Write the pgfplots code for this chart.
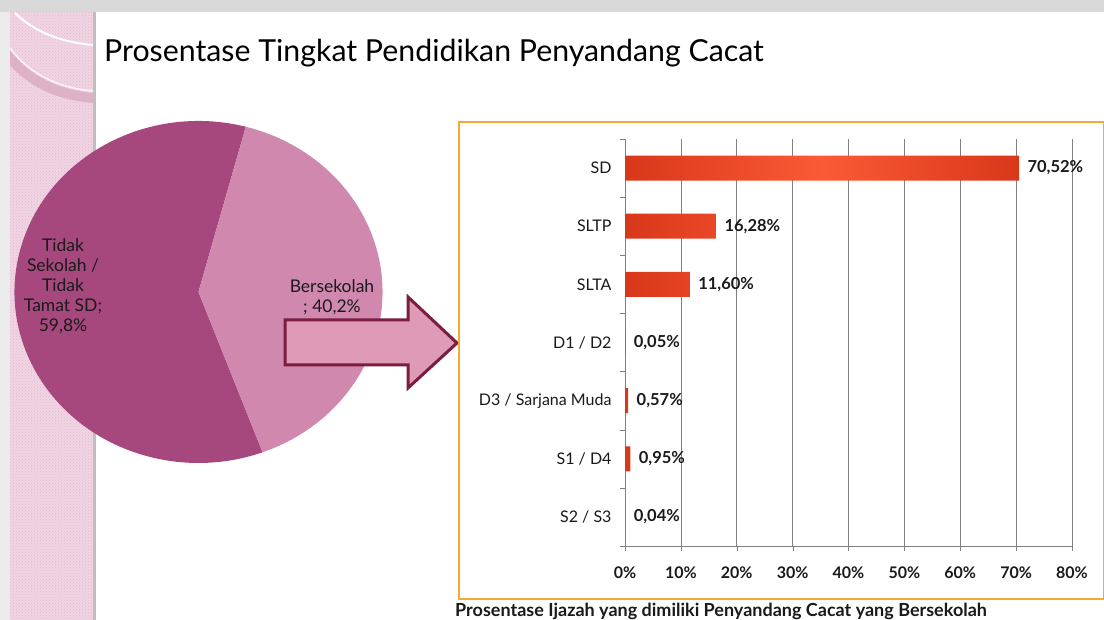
\documentclass[border=0pt]{standalone}
\usepackage{fontspec}
\setmainfont{Lato}
\usepackage{pgfplots}
\pgfplotsset{compat=1.18}
\usetikzlibrary{patterns}
\definecolor{pieDark}{HTML}{A6487D}
\definecolor{pieLight}{HTML}{D088AE}
\definecolor{arrowFill}{HTML}{DE9AB6}
\definecolor{arrowLine}{HTML}{7B1D3F}
\definecolor{stripPink}{HTML}{F1D5E4}
\definecolor{stripDots}{HTML}{E3B9CF}
\definecolor{stripBand}{HTML}{DDB2C7}
\definecolor{frameOrange}{HTML}{F5A833}
\definecolor{barDark}{HTML}{D9371A}
\definecolor{barLight}{HTML}{FB5A36}
\definecolor{txt}{HTML}{1A1A1A}
\def\vA{59.8}
\def\vB{40.2}
\begin{document}
\begin{tikzpicture}[x=1pt,y=1pt]
\useasboundingbox (0,0) rectangle (1104,620);
\clip (0,0) rectangle (1104,620);
% background
\fill[white] (0,0) rectangle (1104,620);
\fill[black!15] (0,608) rectangle (1104,620);
\fill[black!8] (0,0) rectangle (10,608);
% left decorative strip
\fill[stripPink] (10,0) rectangle (95,608);
\fill[pattern=crosshatch dots, pattern color=stripDots] (10,0) rectangle (93,608);
\fill[black!25] (93,0) rectangle (95.5,608);
\fill[stripBand] (10,570) .. controls (30,543) and (60,530) .. (93,527) -- (93,517) .. controls (58,520) and (30,532) .. (10,555) -- cycle;
\draw[white!70!stripPink, line width=1.5] (10,572) .. controls (30,545) and (60,532) .. (93,529);
\draw[white, line width=2] (15,607) .. controls (35,588) and (60,578) .. (93,575);
% title
\node[anchor=base west, inner sep=0, font=\fontsize{30.3}{36}\selectfont, text=black] at (104,558) {Prosentase Tingkat Pendidikan Penyandang Cacat};

% pie chart (slightly elliptical, as in the reference)
\pgfmathsetmacro{\endB}{75.1}
\pgfmathsetmacro{\startB}{\endB-3.6*\vB}
\pgfmathsetmacro{\endA}{\endB+3.6*\vA}
\pgfmathsetmacro{\xe}{184*cos(\endB)}
\pgfmathsetmacro{\ye}{171*sin(\endB)}
\pgfmathsetmacro{\xs}{184*cos(\startB)}
\pgfmathsetmacro{\ys}{171*sin(\startB)}
\begin{axis}[at={(14.5pt,157pt)}, anchor=south west, scale only axis,
  width=368pt, height=342pt, xmin=-1, xmax=1, ymin=-1, ymax=1,
  hide axis, clip=false]
\fill[pieDark] (axis cs:0,0) -- ++(\xe pt,\ye pt)
  arc[start angle=\endB, end angle=\endA, x radius=184pt, y radius=171pt] -- cycle;
\fill[pieLight] (axis cs:0,0) -- ++(\xs pt,\ys pt)
  arc[start angle=\startB, end angle=\endB, x radius=184pt, y radius=171pt] -- cycle;
\end{axis}
\node[align=center, text=txt, font=\fontsize{17.5}{20}\selectfont] at (63,334) {Tidak\\Sekolah /\\Tidak\\Tamat SD;\\59,8\%};
\node[align=center, text=txt, font=\fontsize{17.5}{20}\selectfont] at (332,323) {Bersekolah\\; 40,2\%};

% arrow
\filldraw[fill=arrowFill, draw=arrowLine, line width=3pt, line join=miter]
  (285,300) -- (408,300) -- (408,323) -- (457,277) -- (408,232) -- (408,255) -- (285,255) -- cycle;

% bar chart frame
\draw[frameOrange, line width=2pt] (459,21) rectangle (1103.5,498);
\begin{axis}[at={(625pt,74pt)}, anchor=south west, scale only axis,
  width=447pt, height=407pt,
  xbar, bar width=25pt,
  xmin=0, xmax=80, ymin=0.5, ymax=7.5, y dir=reverse,
  axis x line*=bottom, axis y line*=left,
  axis line style={black!50},
  xtick={0,10,...,80},
  xticklabels={0\%,10\%,20\%,30\%,40\%,50\%,60\%,70\%,80\%},
  ytick={1,...,7},
  yticklabels={SD,SLTP,SLTA,D1 / D2,D3 / Sarjana Muda,S1 / D4,S2 / S3},
  minor ytick={0.5,1.5,...,7.5},
  major y tick style={draw=none},
  minor y tick style={black!50},
  major x tick style={black!50},
  tick align=outside, major tick length=5pt, minor tick length=5pt,
  xmajorgrids, grid style={black!50, line width=0.7pt},
  xticklabel style={font=\bfseries\fontsize{16}{18}\selectfont, text=txt, yshift=-12pt},
  yticklabel style={font=\fontsize{16}{18}\selectfont, text=txt, xshift=-5pt},
  nodes near coords={\pgfmathprintnumber[fixed,fixed zerofill,precision=2,use comma,assume math mode=true]{\pgfplotspointmeta}\%},
  every node near coord/.append style={anchor=west, font=\bfseries\fontsize{16.5}{18}\selectfont, text=txt, xshift=5pt},
  point meta=explicit symbolic,
  clip=false]
\addplot[draw=none, left color=barDark, right color=barDark, middle color=barLight]
  table[meta index=2] {
x y m
70.52 1 70.52
16.28 2 16.28
11.60 3 11.60
0.05 4 0.05
0.57 5 0.57
0.95 6 0.95
0.04 7 0.04
};
\end{axis}
\node[anchor=base west, inner sep=0, font=\bfseries\fontsize{18}{20}\selectfont, text=txt] at (455,3) {Prosentase Ijazah yang dimiliki Penyandang Cacat yang Bersekolah};
\end{tikzpicture}
\end{document}
